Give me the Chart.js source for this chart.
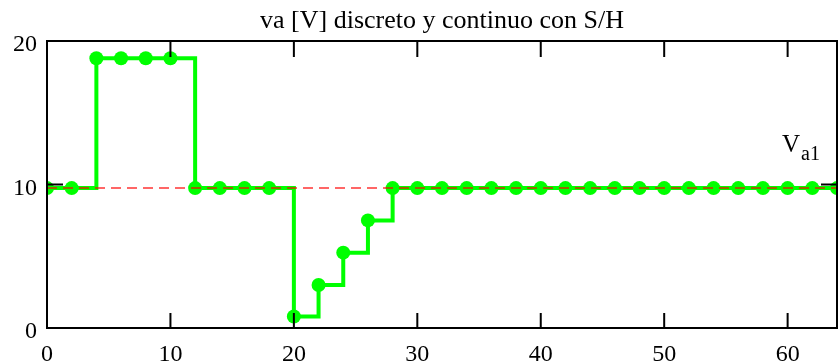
<!DOCTYPE html>
<html>
<head>
<meta charset="utf-8">
<script src="https://cdn.jsdelivr.net/npm/chart.js@4/dist/chart.umd.min.js"></script>
<style>
html,body{margin:0;padding:0;background:#fff;}
#wrap{width:839px;height:364px;position:relative;}
</style>
</head>
<body>
<div id="wrap"><canvas id="c" width="839" height="364"></canvas></div>
<script>
const titleText = "va [V] discreto y continuo con S/H";
const sampleTimes = [0,2,4,6,8,10,12,14,16,18,20,22,24,26,28,30,32,34,36,38,40,42,44,46,48,50,52,54,56,58,60,62,64];
const vaValues = [9.75,9.75,18.8,18.8,18.8,18.8,9.75,9.75,9.75,9.75,0.8,3.0,5.25,7.5,9.75,9.75,9.75,9.75,9.75,9.75,9.75,9.75,9.75,9.75,9.75,9.75,9.75,9.75,9.75,9.75,9.75,9.75,9.75];
const refTimes = [0,64];
const refValues = [9.75,9.75];
const xTicks = [0,10,20,30,40,50,60];
const yTicks = [0,10,20];
const seriesLabel = ["V", "a1"];

const FONT = "'Liberation Serif','Times New Roman',serif";

const framePlugin = {
  id:'frame',
  afterDraw(chart){
    const {ctx, chartArea:a, scales} = chart;
    const xs = scales.x, ys = scales.y;
    ctx.save();
    ctx.strokeStyle = '#000';
    ctx.lineWidth = 2;
    ctx.strokeRect(a.left, a.top, a.right - a.left, a.bottom - a.top);
    ctx.beginPath();
    xTicks.forEach(v=>{
      if (v===0) return;
      const px = xs.getPixelForValue(v);
      ctx.moveTo(px, a.bottom); ctx.lineTo(px, a.bottom - 15);
      ctx.moveTo(px, a.top); ctx.lineTo(px, a.top + 16);
    });
    yTicks.forEach(v=>{
      if (v===0) return;
      const py = ys.getPixelForValue(v);
      ctx.moveTo(a.left, py); ctx.lineTo(a.left + 16, py);
      ctx.moveTo(a.right, py); ctx.lineTo(a.right - 16, py);
    });
    ctx.stroke();
    // title
    ctx.fillStyle = '#000';
    ctx.font = "26px " + FONT;
    ctx.textAlign = 'center';
    ctx.textBaseline = 'alphabetic';
    ctx.fillText(titleText, (a.left + a.right)/2, 28);
    // series label
    ctx.textAlign = 'left';
    ctx.font = "25px " + FONT;
    ctx.fillText(seriesLabel[0], 782, 152);
    const w = ctx.measureText(seriesLabel[0]).width;
    ctx.font = "20px " + FONT;
    ctx.fillText(seriesLabel[1], 782 + w + 1, 160);
    ctx.restore();
  }
};

new Chart(document.getElementById('c'), {
  type:'line',
  data:{
    datasets:[
      {
        data: refTimes.map((t,i)=>({x:t, y:refValues[i]})),
        borderColor:'rgba(255,0,0,0.6)',
        borderWidth:2,
        borderDash:[10,6],
        pointRadius:0,
        fill:false,
        order:0,
        clip:0
      },
      {
        data: sampleTimes.map((t,i)=>({x:t, y:vaValues[i]})),
        borderColor:'#00ff00',
        backgroundColor:'#00ff00',
        borderWidth:4,
        stepped:true,
        pointRadius:7,
        pointBorderWidth:0,
        pointBackgroundColor:'#00ff00',
        fill:false,
        order:1,
        clip:0
      }
    ]
  },
  options:{
    responsive:false,
    animation:false,
    devicePixelRatio:1,
    layout:{autoPadding:false, padding:{top:41,right:2,left:0,bottom:0}},
    plugins:{legend:{display:false},title:{display:false},tooltip:{enabled:false}},
    scales:{
      x:{
        type:'linear', min:0, max:64,
        grid:{display:false, drawTicks:false},
        border:{display:false},
        afterBuildTicks(s){ s.ticks = xTicks.map(v=>({value:v})); },
        afterFit(s){ s.height = 36; s.paddingLeft = 0; s.paddingRight = 0; },
        ticks:{color:'#000', font:{family:FONT,size:24}, padding:12, maxRotation:0, autoSkip:false}
      },
      y:{
        min:0, max:20,
        grid:{display:false, drawTicks:false},
        border:{display:false},
        afterBuildTicks(s){ s.ticks = yTicks.map(v=>({value:v})); },
        afterFit(s){ s.width = 47; s.paddingTop = 0; s.paddingBottom = 0; },
        ticks:{color:'#000', font:{family:FONT,size:24}, padding:10, labelOffset:4}
      }
    }
  },
  plugins:[framePlugin]
});
</script>
</body>
</html>
